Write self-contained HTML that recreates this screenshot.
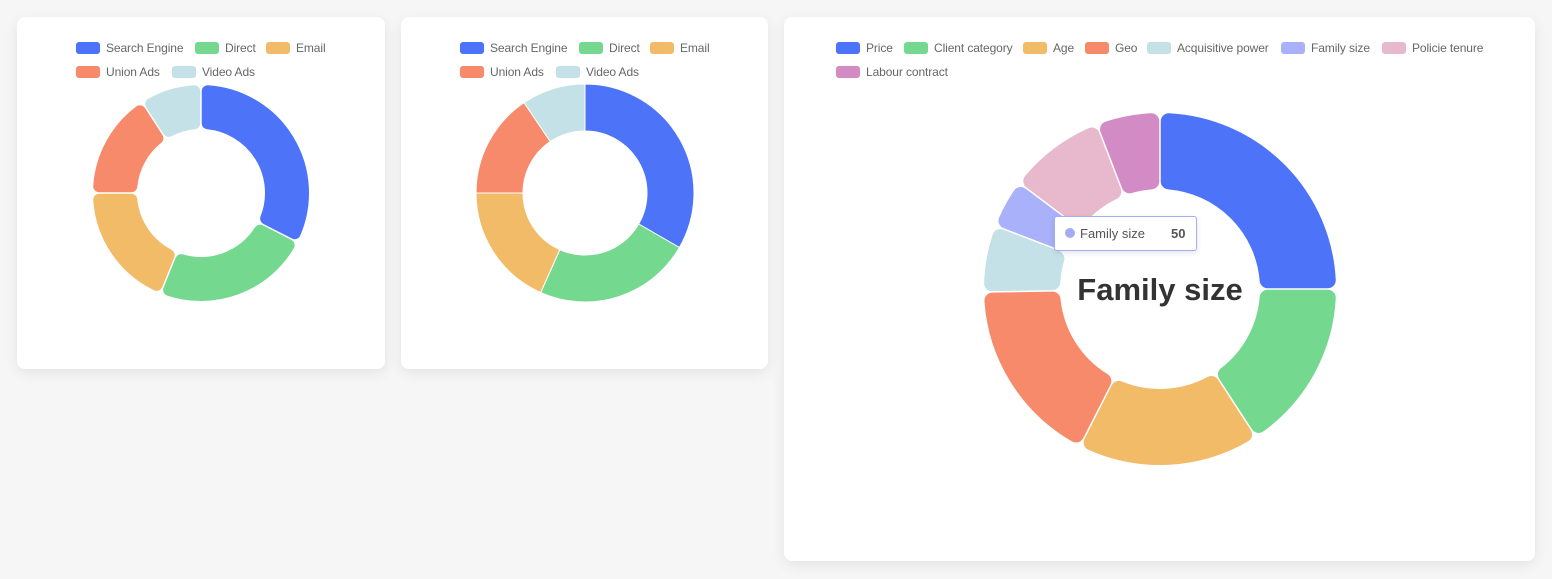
<!DOCTYPE html>
<html><head><meta charset="utf-8"><style>
body{margin:0;width:1552px;height:579px;background:#f6f6f6;position:relative;overflow:hidden;font-family:"Liberation Sans",sans-serif}
.card{position:absolute;background:#fff;border-radius:8px;box-shadow:0 4px 14px rgba(0,0,0,0.08)}
.lg{position:absolute;font-size:12px;color:#666;line-height:14px;white-space:nowrap;letter-spacing:-0.1px}
.lg i{display:inline-block;width:24px;height:12px;border-radius:3px;vertical-align:-2px;margin-right:6px}
svg{position:absolute;left:0;top:0}
.tip{position:absolute;left:1054px;top:216px;width:141px;height:33px;background:#fff;border:1px solid #a4abf7;border-radius:3px;box-shadow:0 2px 6px rgba(0,0,0,0.1);font-size:13px;color:#555}
</style></head><body>
<div class="card" style="left:17px;top:17px;width:368px;height:352px"></div>
<div class="card" style="left:401px;top:17px;width:367px;height:352px"></div>
<div class="card" style="left:784px;top:17px;width:751px;height:544px"></div>
<svg id="s" width="1552" height="579"></svg>
<div id="lgs"></div>
<div class="tip"><span style="position:absolute;left:10px;top:11px;width:10px;height:10px;border-radius:50%;background:#a4abf7"></span><span style="position:absolute;left:25px;top:9px">Family size</span><b style="position:absolute;left:116px;top:9px">50</b></div>
<div style="position:absolute;left:1000px;width:320px;top:272px;text-align:center;font-size:31px;font-weight:bold;color:#333">Family size</div>
<script>
var B='#4c73f8',G='#74d88f',E='#f1bb68',O='#f68a6b',V='#c4e1e7',F='#a9b1fb',P='#e8b8cd',M='#d38bc6';
var s=document.getElementById('s'),ns='http://www.w3.org/2000/svg';
function pt(cx,cy,r,a){a=(a-90)*Math.PI/180;return [cx+r*Math.cos(a),cy+r*Math.sin(a)];}
function seg(cx,cy,R,r0,a0,a1,col,rad,gap){
 var ro=R-rad,ri=r0+rad;
 var g=gap/2;
 var ao0=a0+(rad+g)/ro*180/Math.PI,ao1=a1-(rad+g)/ro*180/Math.PI;
 var ai0=a0+(rad+g)/ri*180/Math.PI,ai1=a1-(rad+g)/ri*180/Math.PI;
 var p1=pt(cx,cy,ro,ao0),p2=pt(cx,cy,ro,ao1),p3=pt(cx,cy,ri,ai1),p4=pt(cx,cy,ri,ai0);
 var lo=(ao1-ao0)>180?1:0,li=(ai1-ai0)>180?1:0;
 var d='M'+p1+' A'+ro+','+ro+' 0 '+lo+' 1 '+p2+' L'+p3+' A'+ri+','+ri+' 0 '+li+' 0 '+p4+' Z';
 var e=document.createElementNS(ns,'path');e.setAttribute('d',d);e.setAttribute('fill',col);
 e.setAttribute('stroke',rad>0?col:'#fff');e.setAttribute('stroke-width',rad>0?2*rad:1);e.setAttribute('stroke-linejoin','round');s.appendChild(e);
}
var c1=[[0,117,B],[117,202,G],[202,270,E],[270,327,O],[327,360,V]];
c1.forEach(function(q){seg(201,193,108,64,q[0],q[1],q[2],6,1.5);});
var c2=[[0,120,B],[120,204,G],[204,270,E],[270,326,O],[326,360,V]];
c2.forEach(function(q){seg(585,193,109,62,q[0],q[1],q[2],0,0);});
var c3=[[0,90,B],[90,147,G],[147,207,E],[207,269,O],[269,291,V],[291,307,F],[307,339,P],[339,360,M]];
c3.forEach(function(q){seg(1160,289,176,100,q[0],q[1],q[2],8,1.5);});
var L=[[76,48,B,'Search Engine'],[195,48,G,'Direct'],[266,48,E,'Email'],[76,72,O,'Union Ads'],[172,72,V,'Video Ads'],
[460,48,B,'Search Engine'],[579,48,G,'Direct'],[650,48,E,'Email'],[460,72,O,'Union Ads'],[556,72,V,'Video Ads'],
[836,48,B,'Price'],[904,48,G,'Client category'],[1023,48,E,'Age'],[1085,48,O,'Geo'],[1147,48,V,'Acquisitive power'],[1281,48,F,'Family size'],[1382,48,P,'Policie tenure'],[836,72,M,'Labour contract']];
var h='';L.forEach(function(l){h+='<div class="lg" style="left:'+l[0]+'px;top:'+(l[1]-7)+'px"><i style="background:'+l[2]+'"></i>'+l[3]+'</div>';});
document.getElementById('lgs').innerHTML=h;
</script>
</body></html>
